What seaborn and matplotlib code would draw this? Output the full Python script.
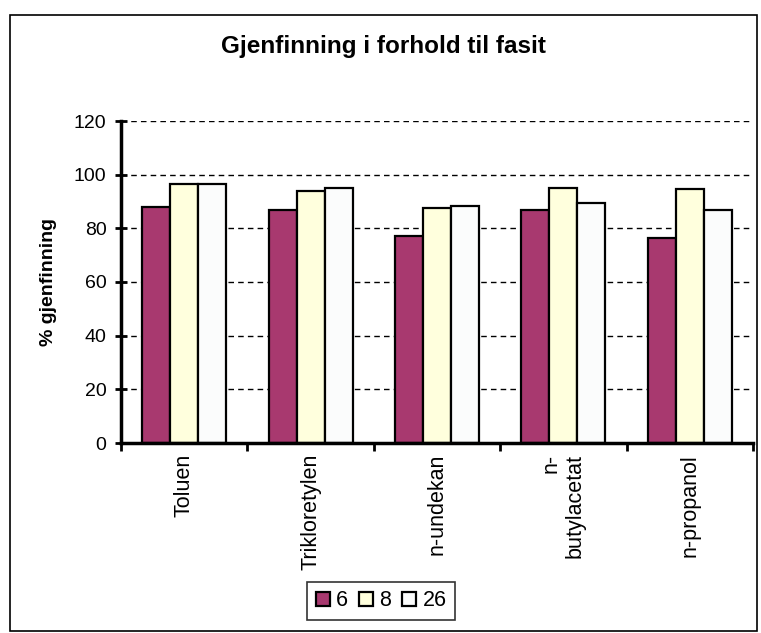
import matplotlib
matplotlib.use("Agg")
import matplotlib.pyplot as plt
from matplotlib.patches import Rectangle
import pandas as pd
import seaborn as sns

# Recovery per compound for three series
stoffer = ["Toluen", "Trikloretylen", "n-undekan", "n-\nbutylacetat", "n-propanol"]
serier = ["6", "8", "26"]
verdier_6 = [88, 87, 77, 87, 76.5]
verdier_8 = [96.5, 94, 87.5, 95, 94.5]
verdier_26 = [96.5, 95, 88.5, 89.5, 87]
farger = ["#A8396F", "#FFFFDD", "#FBFCFC"]
y_ticks = [0, 20, 40, 60, 80, 100, 120]

df = pd.DataFrame({
    "stoff": stoffer * 3,
    "serie": [s for s in serier for _ in stoffer],
    "gjenfinning": verdier_6 + verdier_8 + verdier_26,
})

sns.set_theme(style="white")
plt.rcParams["font.family"] = ["Liberation Sans", "DejaVu Sans"]
plt.rcParams.update({"text.color": "black", "axes.labelcolor": "black",
                     "xtick.color": "black", "ytick.color": "black"})

fig = plt.figure(figsize=(7.61, 6.33), dpi=100)
ax = fig.add_axes([121 / 761, 1 - 443 / 633, 632 / 761, 322 / 633])

sns.barplot(data=df, x="stoff", y="gjenfinning", hue="serie", order=stoffer,
            hue_order=serier, palette=farger, saturation=1, width=0.665,
            edgecolor="black", linewidth=1.6, ax=ax, legend=True)

ax.set_ylim(0, 120)
ax.set_xlim(-0.5, len(stoffer) - 0.5)
ax.set_yticks(y_ticks)
ax.set_yticklabels([str(v) for v in y_ticks], fontsize=14)
ax.yaxis.grid(True, color="black", linestyle=(0, (4, 3)), linewidth=1.0)
ax.set_axisbelow(True)

for side in ["top", "right"]:
    ax.spines[side].set_visible(False)
for side in ["left", "bottom"]:
    ax.spines[side].set_color("black")
    ax.spines[side].set_linewidth(2.5)

ax.tick_params(axis="y", direction="inout", length=9, width=2, color="black",
               left=True, pad=6)
ax.set_xticks(range(len(stoffer)))
ax.set_xticklabels(stoffer, rotation=90, fontsize=15.5, ha="center", va="top",
                   multialignment="right")
ax.tick_params(axis="x", which="major", length=0, pad=8)
ax.set_xticks([i - 0.5 for i in range(len(stoffer) + 1)], minor=True)
ax.tick_params(axis="x", which="minor", direction="out", length=6, width=2,
               color="black", bottom=True)

ax.set_xlabel("")
ax.set_ylabel("% gjenfinning", fontsize=14, fontweight="bold", labelpad=12)

fig.text(383 / 761, 1 - 47 / 633, "Gjenfinning i forhold til fasit",
         ha="center", va="center", fontsize=17.5, fontweight="bold")

handles, labels = ax.get_legend_handles_labels()
leg = ax.legend(handles, labels, loc="center", ncol=3,
                bbox_to_anchor=(381 / 761, 1 - 601 / 633),
                bbox_transform=fig.transFigure, frameon=True, fancybox=False,
                fontsize=15.5, handlelength=0.65, handleheight=0.65,
                handletextpad=0.3, columnspacing=0.5, borderpad=0.4)
leg.get_frame().set_edgecolor("black")
leg.get_frame().set_linewidth(1.2)

# outer chart border
fig.patches.append(Rectangle((10 / 761, 1 - 631 / 633), 747 / 761, 616 / 633,
                             transform=fig.transFigure, fill=False,
                             edgecolor="black", linewidth=1.2))

fig.savefig("out.png", dpi=100)
